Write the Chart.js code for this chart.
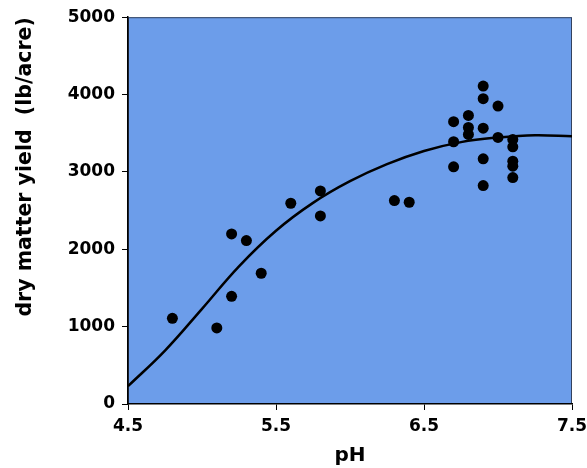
<!DOCTYPE html>
<html>
<head>
<meta charset="utf-8">
<script src="https://cdn.jsdelivr.net/npm/chart.js@4.4.1/dist/chart.umd.min.js"></script>
<style>
  body { margin: 0; background: #fff; }
  #wrap { width: 587px; height: 468px; }
</style>
</head>
<body>
<div id="wrap"><canvas id="myChart"></canvas></div>
<script>
// measured points (pH, dry matter yield)
let phValues = [4.8, 5.1, 5.2, 5.2, 5.3, 5.4, 5.6, 5.8, 5.8, 6.3, 6.4,
  6.7, 6.7, 6.7, 6.8, 6.8, 6.8, 6.9, 6.9, 6.9, 6.9, 6.9,
  7.0, 7.0, 7.1, 7.1, 7.1, 7.1, 7.1];
let yieldValues = [1108, 983, 2198, 1392, 2112, 1690, 2595, 2754, 2431, 2629, 2608,
  3649, 3390, 3066, 3730, 3575, 3484, 4110, 3947, 3566, 3170, 2824,
  3851, 3446, 3420, 3325, 3139, 3074, 2927];

// fitted curve
let curvePh = [4.5, 4.75, 5.0, 5.25, 5.5, 5.75, 6.0, 6.25, 6.5, 6.75, 7.0, 7.25, 7.5];
let curveYield = [230, 690, 1230, 1780, 2240, 2600, 2880, 3100, 3270, 3385, 3445, 3475, 3460];

let xTicks = [4.5, 5.5, 6.5, 7.5];
let yTicks = [0, 1000, 2000, 3000, 4000, 5000];

let points = [];
for (let i = 0; i < phValues.length; i++) {
  points.push({ x: phValues[i], y: yieldValues[i] });
}
let curve = [];
for (let i = 0; i < curvePh.length; i++) {
  curve.push({ x: curvePh[i], y: curveYield[i] });
}

// blue plot background + thin frame
const plotBg = {
  id: 'plotBg',
  beforeDraw(chart) {
    const a = chart.chartArea;
    const ctx = chart.ctx;
    ctx.save();
    ctx.fillStyle = '#6c9dea';
    ctx.fillRect(a.left, a.top, a.right - a.left, a.bottom - a.top);
    ctx.strokeStyle = '#34425e';
    ctx.lineWidth = 1;
    ctx.strokeRect(a.left + 0.5, a.top + 0.5, a.right - a.left - 1, a.bottom - a.top - 1);
    ctx.restore();
  }
};

const tickFont = { family: 'DejaVu Sans', weight: 'bold', size: 17 };

let ctx = document.getElementById('myChart').getContext('2d');
let chart = new Chart(ctx, {
  type: 'scatter',
  data: {
    datasets: [
      {
        label: 'fit',
        data: curve,
        showLine: true,
        borderColor: '#000',
        borderWidth: 2.5,
        pointRadius: 0,
        tension: 0.4,
        fill: false
      },
      {
        label: 'yield',
        data: points,
        backgroundColor: '#000',
        borderColor: '#000',
        pointRadius: 5.5,
        borderWidth: 0
      }
    ]
  },
  plugins: [plotBg],
  options: {
    responsive: true,
    maintainAspectRatio: false,
    animation: false,
    layout: { padding: { top: 17, right: 15, left: 13, bottom: 0 } },
    plugins: {
      legend: { display: false },
      tooltip: { enabled: false }
    },
    scales: {
      x: {
        type: 'linear',
        min: 4.5,
        max: 7.5,
        afterBuildTicks: function (scale) {
          scale.ticks = xTicks.map(v => ({ value: v }));
        },
        afterFit: function (scale) {
          scale.height = 64;
          scale.paddingRight = 15;
          scale.paddingLeft = 0;
        },
        ticks: {
          color: '#000',
          font: tickFont,
          padding: 6,
          callback: v => v.toFixed(1)
        },
        grid: { drawOnChartArea: false, drawTicks: true, tickLength: 6, color: '#000' },
        border: { color: '#000', width: 1.5 },
        title: {
          display: true,
          text: 'pH',
          color: '#000',
          font: { family: 'DejaVu Sans', weight: 'bold', size: 20 },
          padding: { top: 0, bottom: 0 }
        }
      },
      y: {
        type: 'linear',
        min: 0,
        max: 5000,
        afterBuildTicks: function (scale) {
          scale.ticks = yTicks.map(v => ({ value: v }));
        },
        afterFit: function (scale) { scale.width = 115; },
        ticks: {
          color: '#000',
          font: tickFont,
          padding: 7,
          callback: v => String(v)
        },
        grid: { drawOnChartArea: false, drawTicks: true, tickLength: 6, color: '#000' },
        border: { color: '#000', width: 1.5 },
        title: {
          display: true,
          text: 'dry matter yield  (lb/acre)',
          align: 'end',
          color: '#000',
          font: { family: 'DejaVu Sans', weight: 'bold', size: 20.5 },
          padding: { top: 0, bottom: 0 }
        }
      }
    }
  }
});
</script>
</body>
</html>
